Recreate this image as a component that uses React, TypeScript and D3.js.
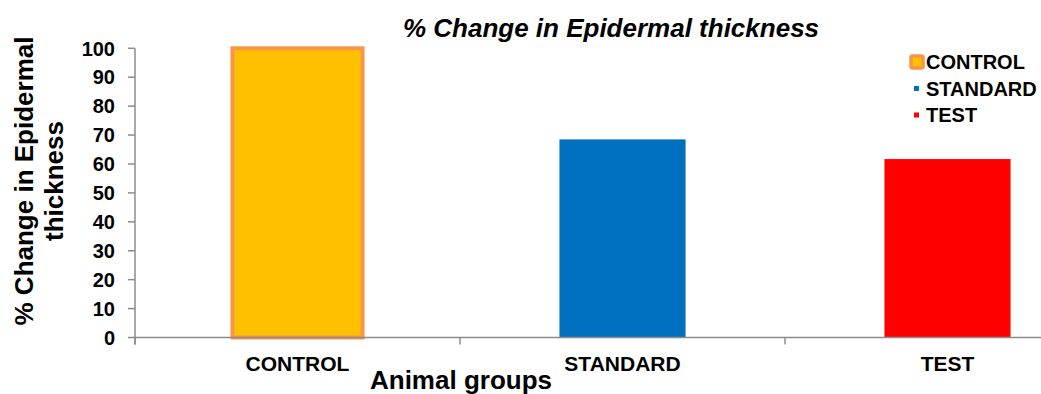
import React from "react";
import * as d3 from "d3";

// Animal groups and the % change in epidermal thickness for each
const groups: string[] = ["CONTROL", "STANDARD", "TEST"];
const values: number[] = [100, 68.5, 61.7];
const fills: string[] = ["#FFC000", "#0070C0", "#FF0000"];
const yTicks: number[] = [0, 10, 20, 30, 40, 50, 60, 70, 80, 90, 100];

const W = 1041;
const H = 394;
const FONT = "'Liberation Sans', Arial, sans-serif";
const AXIS = "#8c8c8c";

export default function App() {
  const x = d3.scaleBand<string>().domain(groups).range([135, 1110]).padding(0);
  const y = d3.scaleLinear().domain([0, 100]).range([337.5, 48.3]);
  const bw = x.bandwidth() * 0.388;
  const y0 = y(0);
  const boundaries = [...groups.map((g) => x(g) as number), 1110];

  return (
    <svg
      width={W}
      height={H}
      style={{ position: "absolute", left: 0, top: 0, background: "#fff" }}
      fontFamily={FONT}
    >
      {/* title */}
      <text
        x={611}
        y={37}
        textAnchor="middle"
        fontSize={26}
        fontWeight="bold"
        fontStyle="italic"
        fill="#000"
      >
        % Change in Epidermal thickness
      </text>

      {/* bars */}
      {groups.map((g, i) => {
        const cx = (x(g) as number) + x.bandwidth() / 2;
        const top = y(values[i]);
        const isControl = i === 0;
        return isControl ? (
          <rect
            key={g}
            x={cx - bw / 2 - 2}
            y={top}
            width={bw + 4}
            height={y0 - top}
            fill={fills[i]}
            stroke="#F79646"
            strokeWidth={4}
          />
        ) : (
          <rect
            key={g}
            x={cx - bw / 2}
            y={top}
            width={bw}
            height={y0 - top}
            fill={fills[i]}
          />
        );
      })}

      {/* y axis */}
      <line x1={135} x2={135} y1={y(100)} y2={y0 + 7} stroke={AXIS} strokeWidth={1.5} />
      {yTicks.map((t) => (
        <g key={t}>
          <line x1={128} x2={135} y1={y(t)} y2={y(t)} stroke={AXIS} strokeWidth={1.5} />
          <text
            x={115}
            y={y(t)}
            dy="0.36em"
            textAnchor="end"
            fontSize={20}
            fontWeight="bold"
            fill="#000"
          >
            {t}
          </text>
        </g>
      ))}

      {/* x axis */}
      <line x1={135} x2={W} y1={y0} y2={y0} stroke={AXIS} strokeWidth={1.5} />
      {boundaries.map((b, i) => (
        <line key={i} x1={b} x2={b} y1={y0} y2={y0 + 7} stroke={AXIS} strokeWidth={1.5} />
      ))}
      {groups.map((g) => (
        <text
          key={g}
          x={(x(g) as number) + x.bandwidth() / 2}
          y={371}
          textAnchor="middle"
          fontSize={21}
          fontWeight="bold"
          fill="#000"
        >
          {g}
        </text>
      ))}

      {/* axis titles */}
      <text
        x={461}
        y={389}
        textAnchor="middle"
        fontSize={26}
        fontWeight="bold"
        fill="#000"
      >
        Animal groups
      </text>
      <text
        transform="translate(33,181) rotate(-90)"
        textAnchor="middle"
        fontSize={26}
        fontWeight="bold"
        fill="#000"
      >
        % Change in Epidermal
      </text>
      <text
        transform="translate(63,181) rotate(-90)"
        textAnchor="middle"
        fontSize={26}
        fontWeight="bold"
        fill="#000"
      >
        thickness
      </text>

      {/* legend */}
      {groups.map((g, i) => {
        const cy = 62 + i * 26.5;
        return (
          <g key={g}>
            {i === 0 ? (
              <rect
                x={911}
                y={cy - 6}
                width={12}
                height={12}
                rx={1.5}
                fill={fills[i]}
                stroke="#F79646"
                strokeWidth={3.5}
              />
            ) : (
              <rect x={914} y={cy - 2.5} width={5} height={5} fill={fills[i]} />
            )}
            <text x={926} y={cy} dy="0.36em" fontSize={20} fontWeight="bold" fill="#000">
              {g}
            </text>
          </g>
        );
      })}
    </svg>
  );
}
